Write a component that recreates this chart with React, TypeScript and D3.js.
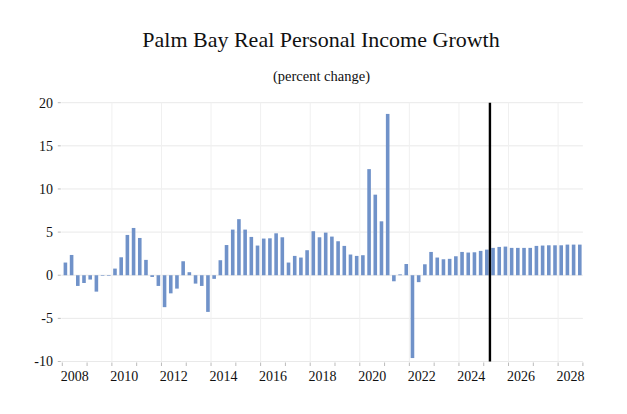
import { useRef, useEffect } from 'react';
import * as d3 from 'd3';

const YEARS = d3.range(2008, 2029);
const QUARTERS = YEARS.flatMap((y) => [1, 2, 3, 4].map((q) => `${y}Q${q}`));

// quarterly percent change, 2008Q1 .. 2028Q4
const GROWTH = [
  1.47, 2.35, -1.24, -0.9,
  -0.5, -1.9, -0.05, -0.05,
  0.77, 2.08, 4.67, 5.48,
  4.32, 1.78, -0.2, -1.24,
  -3.7, -2.1, -1.55, 1.62,
  0.35, -0.97, -1.24, -4.25,
  -0.42, 1.74, 3.5, 5.29,
  6.5, 5.29, 4.44, 3.44,
  4.25, 4.28, 4.86, 4.4,
  1.47, 2.24, 2.05, 2.9,
  5.1, 4.4, 4.94, 4.48,
  3.94, 3.4, 2.4, 2.24,
  2.32, 12.3, 9.34, 6.25,
  18.7, -0.7, 0.1, 1.3,
  -9.6, -0.8, 1.27, 2.7,
  2.05, 1.85, 1.9, 2.2,
  2.7, 2.63, 2.66, 2.82,
  2.97, 3.17, 3.28, 3.32,
  3.17, 3.17, 3.17, 3.17,
  3.4, 3.44, 3.47, 3.47,
  3.47, 3.55, 3.55, 3.55,
];

const Y_TICKS = [-10, -5, 0, 5, 10, 15, 20];
const X_LABEL_YEARS = [2008, 2010, 2012, 2014, 2016, 2018, 2020, 2022, 2024, 2026, 2028];
const FORECAST_START = '2025Q2';

const WIDTH = 627;
const HEIGHT = 414;
const PLOT = { left: 62.3, right: 582.9, top: 102.7, bottom: 361.5 };
const SERIF = "'Liberation Serif', 'DejaVu Serif', serif";

export default function App() {
  const svgRef = useRef<SVGSVGElement>(null);

  useEffect(() => {
    if (!svgRef.current) return;
    const svg = d3.select(svgRef.current);
    svg.selectAll('*').remove();

    const x = d3.scaleBand<string>()
      .domain(QUARTERS)
      .range([PLOT.left, PLOT.right])
      .padding(0);

    const xYear = d3.scaleLinear()
      .domain([2008, 2029])
      .range([PLOT.left, PLOT.right]);

    const y = d3.scaleLinear()
      .domain([-10, 20])
      .range([PLOT.bottom, PLOT.top]);

    // gridlines
    svg.append('g')
      .selectAll('line')
      .data(Y_TICKS)
      .join('line')
      .attr('x1', PLOT.left - 1)
      .attr('x2', PLOT.right)
      .attr('y1', (d) => y(d))
      .attr('y2', (d) => y(d))
      .attr('stroke', '#e9e9e9')
      .attr('stroke-width', 1);

    svg.append('g')
      .selectAll('line')
      .data(X_LABEL_YEARS.slice(1))
      .join('line')
      .attr('x1', (d) => xYear(d))
      .attr('x2', (d) => xYear(d))
      .attr('y1', PLOT.top)
      .attr('y2', PLOT.bottom)
      .attr('stroke', '#f0f0f0')
      .attr('stroke-width', 1);

    // y ticks + labels
    const yAxis = svg.append('g');
    yAxis.selectAll('line')
      .data(Y_TICKS)
      .join('line')
      .attr('x1', PLOT.left - 4.5)
      .attr('x2', PLOT.left - 1.5)
      .attr('y1', (d) => y(d))
      .attr('y2', (d) => y(d))
      .attr('stroke', '#bbbbbb');
    yAxis.selectAll('text')
      .data(Y_TICKS)
      .join('text')
      .attr('x', 53)
      .attr('y', (d) => y(d))
      .attr('dy', '0.35em')
      .attr('text-anchor', 'end')
      .style('font-family', SERIF)
      .style('font-size', '14px')
      .attr('fill', '#111')
      .text((d) => `${d}`);

    // x ticks (year boundaries) + labels
    const xAxis = svg.append('g');
    xAxis.selectAll('line')
      .data(d3.range(2008, 2030))
      .join('line')
      .attr('x1', (d) => xYear(d))
      .attr('x2', (d) => xYear(d))
      .attr('y1', PLOT.bottom + 1)
      .attr('y2', PLOT.bottom + 4.5)
      .attr('stroke', '#bbbbbb');
    xAxis.selectAll('text')
      .data(X_LABEL_YEARS)
      .join('text')
      .attr('x', (d) => xYear(d + 0.5))
      .attr('y', 381)
      .attr('text-anchor', 'middle')
      .style('font-family', SERIF)
      .style('font-size', '14px')
      .attr('fill', '#111')
      .text((d) => `${d}`);

    // bars
    const bw = x.bandwidth();
    svg.append('g')
      .selectAll('rect')
      .data(GROWTH)
      .join('rect')
      .attr('x', (_, i) => (x(QUARTERS[i]) ?? 0) + bw * 0.21)
      .attr('width', bw * 0.58)
      .attr('y', (d) => y(Math.max(0, d)))
      .attr('height', (d) => Math.max(Math.abs(y(d) - y(0)), 0.6))
      .attr('fill', '#7092c9');

    // forecast divider
    const fx = x(FORECAST_START) ?? 0;
    svg.append('line')
      .attr('x1', fx)
      .attr('x2', fx)
      .attr('y1', PLOT.top)
      .attr('y2', PLOT.bottom)
      .attr('stroke', '#000')
      .attr('stroke-width', 2.4);

    // titles
    svg.append('text')
      .attr('x', 321)
      .attr('y', 47)
      .attr('text-anchor', 'middle')
      .style('font-family', SERIF)
      .style('font-size', '22px')
      .attr('fill', '#111')
      .text('Palm Bay Real Personal Income Growth');

    svg.append('text')
      .attr('x', 321.5)
      .attr('y', 81)
      .attr('text-anchor', 'middle')
      .style('font-family', SERIF)
      .style('font-size', '14.5px')
      .attr('fill', '#111')
      .text('(percent change)');
  }, []);

  return (
    <div style={{ position: 'absolute', left: 0, top: 0, background: '#fff' }}>
      <svg ref={svgRef} width={WIDTH} height={HEIGHT} style={{ display: 'block' }} />
    </div>
  );
}
